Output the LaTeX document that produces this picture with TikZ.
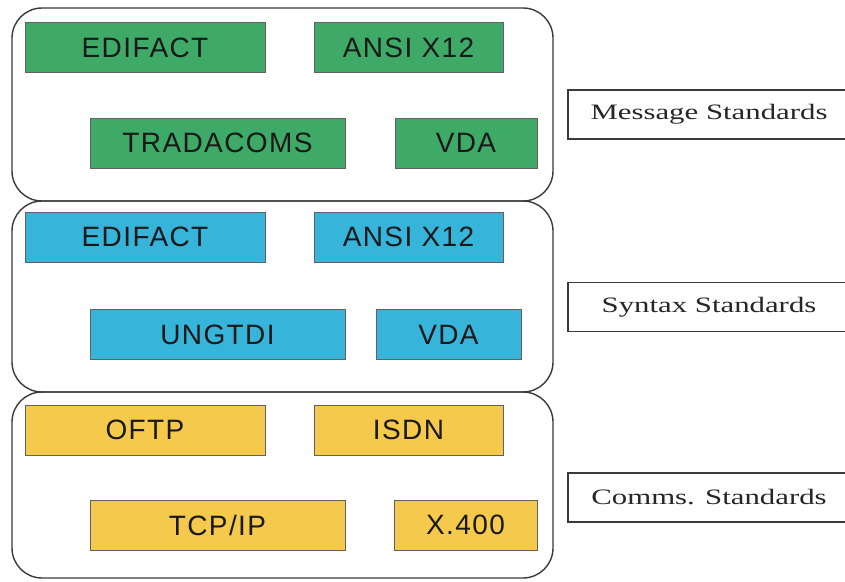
\documentclass[tikz,border=0pt]{standalone}
\usepackage{fontspec}
\setmainfont{Liberation Serif}
\setsansfont{Liberation Sans}[LetterSpace=5]
\definecolor{gfill}{HTML}{3FAA68}
\definecolor{bfill}{HTML}{36B4DA}
\definecolor{yfill}{HTML}{F5C94C}
\definecolor{edge}{HTML}{3A3A3A}
\begin{document}
\begin{tikzpicture}[x=1pt,y=-1pt,
  layer/.style={draw=edge,line width=1.4pt,rounded corners=30pt,minimum width=541pt,inner sep=0pt},
  std/.style={draw=edge!80,line width=0.8pt,inner sep=0pt,minimum height=50pt,
    font=\sffamily\fontsize{28}{30}\selectfont,text=black!90},
  gbox/.style={std,fill=gfill},
  bbox/.style={std,fill=bfill},
  ybox/.style={std,fill=yfill},
  lab/.style={draw=edge,line width=1.2pt,fill=white,inner sep=0pt,minimum width=282pt,minimum height=49pt,
    font=\fontsize{22}{24}\selectfont,text=black!85}]
\useasboundingbox (0,0) rectangle (845,581);
\fill[white] (0,0) rectangle (845,581);
% layers
\node[layer,minimum height=193pt] (L1) at (282.5,104.5) {};
\node[layer,minimum height=191pt] (L2) at (282.5,296.5) {};
\node[layer,minimum height=186pt] (L3) at (282.5,485) {};
% message standards
\node[gbox,minimum width=240pt] (g1) at (145,47.5) {EDIFACT};
\node[gbox,minimum width=189pt] (g2) at (408.5,47.5) {ANSI X12};
\node[gbox,minimum width=255pt] (g3) at (217.5,143) {TRADACOMS};
\node[gbox,minimum width=142pt] (g4) at (466,143) {VDA};
% syntax standards
\node[bbox,minimum width=240pt] (b1) at (145,237) {EDIFACT};
\node[bbox,minimum width=189pt] (b2) at (408.5,237) {ANSI X12};
\node[bbox,minimum width=255pt] (b3) at (217.5,334.5) {UNGTDI};
\node[bbox,minimum width=145pt] (b4) at (448.5,334.5) {VDA};
% comms standards
\node[ybox,minimum width=240pt] (y1) at (145,430) {OFTP};
\node[ybox,minimum width=189pt] (y2) at (408.5,430) {ISDN};
\node[ybox,minimum width=255pt] (y3) at (217.5,525) {TCP/IP};
\node[ybox,minimum width=143pt] (y4) at (465.5,525) {X.400};
% labels
\node[lab] (m) at (709,114.5) {\scalebox{1.4}[1]{Message Standards}};
\node[lab] (s) at (709,307) {\scalebox{1.4}[1]{Syntax Standards}};
\node[lab] (c) at (709,497.5) {\scalebox{1.4}[1]{Comms. Standards}};
\end{tikzpicture}
\end{document}
